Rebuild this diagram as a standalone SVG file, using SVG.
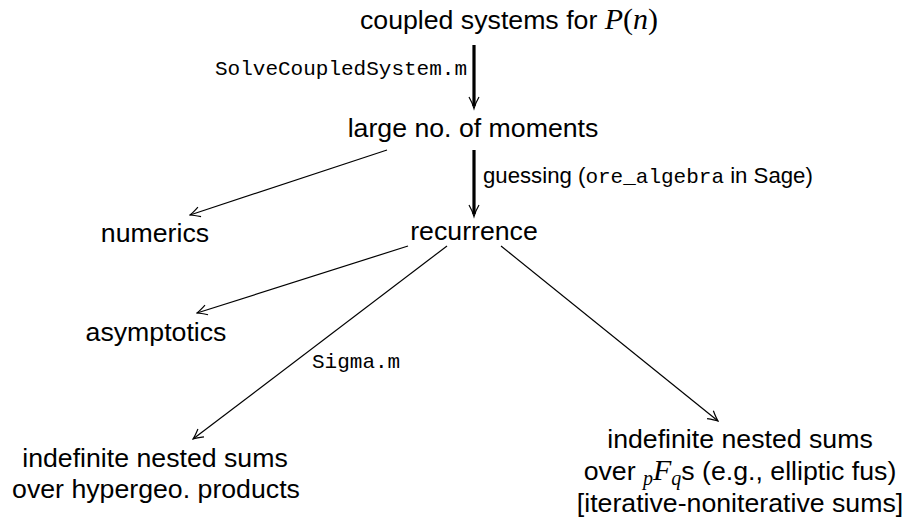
<svg xmlns="http://www.w3.org/2000/svg" width="910" height="522" viewBox="0 0 910 522">
<defs>
<marker id="ah" viewBox="-11 -6 12 12" refX="0" refY="0" markerWidth="12" markerHeight="12" markerUnits="userSpaceOnUse" orient="auto">
<path d="M-10,-5 Q-3.5,-1.2 0,0 Q-3.5,1.2 -10,5" fill="none" stroke="#000" stroke-width="1.2"/>
</marker>
</defs>
<style>
.t{font-family:"Liberation Sans","DejaVu Sans",sans-serif;font-size:26.7px;fill:#000;text-anchor:middle}
.s{font-family:"Liberation Sans","DejaVu Sans",sans-serif;font-size:22.2px;fill:#000}
.m{font-family:"Liberation Mono","DejaVu Sans Mono",monospace;font-size:21px;fill:#000}
.i{font-family:"Liberation Serif","DejaVu Serif",serif;font-style:italic}
.r{font-family:"Liberation Serif","DejaVu Serif",serif}
.thick{stroke:#000;stroke-width:3.2;fill:none}
.thin{stroke:#000;stroke-width:1.2;fill:none}
</style>
<g id="connectors">
<line class="thick" x1="474" y1="45" x2="474" y2="106"/>
<path class="thin" d="M469,97 Q472.5,103 474,108.5 Q475.5,103 479,97"/>
<line class="thick" x1="474" y1="150" x2="474" y2="214"/>
<path class="thin" d="M469,205 Q472.5,211 474,216.5 Q475.5,211 479,205"/>
<line class="thin" x1="387" y1="150" x2="190" y2="215" marker-end="url(#ah)"/>
<line class="thin" x1="408" y1="246" x2="197" y2="313" marker-end="url(#ah)"/>
<line class="thin" x1="447" y1="246" x2="193" y2="439" marker-end="url(#ah)"/>
<line class="thin" x1="501" y1="246" x2="718" y2="421" marker-end="url(#ah)"/>
<text class="m" x="215" y="75" textLength="252" lengthAdjust="spacingAndGlyphs">SolveCoupledSystem.m</text>
<text class="s" x="483" y="183"><tspan>guessing (</tspan><tspan class="m">ore_algebra</tspan><tspan> in Sage)</tspan></text>
<text class="m" x="312" y="368" font-size="20">Sigma.m</text>
</g>
<g id="n-coupled"><text class="t" x="509" y="29">coupled systems for <tspan class="i" font-size="30">P</tspan><tspan class="r" font-size="30">(</tspan><tspan class="i" font-size="30">n</tspan><tspan class="r" font-size="30">)</tspan></text></g>
<g id="n-moments"><text class="t" x="473" y="137">large no. of moments</text></g>
<g id="n-recurrence"><text class="t" x="474" y="240">recurrence</text></g>
<g id="n-numerics"><text class="t" x="155" y="242">numerics</text></g>
<g id="n-asymptotics"><text class="t" x="156" y="341">asymptotics</text></g>
<g id="n-hypergeo"><text class="t" x="155" y="467">indefinite nested sums</text><text class="t" x="156" y="498">over hypergeo. products</text></g>
<g id="n-pfq"><text class="t" x="740" y="448">indefinite nested sums</text><text class="t" x="740" y="480">over <tspan class="i" font-size="20" dy="5">p</tspan><tspan class="i" font-size="30" dy="-5">F</tspan><tspan class="i" font-size="20" dy="5">q</tspan><tspan dy="-5">s (e.g., elliptic fus)</tspan></text><text class="t" x="740" y="512">[iterative-noniterative sums]</text></g>
</svg>
